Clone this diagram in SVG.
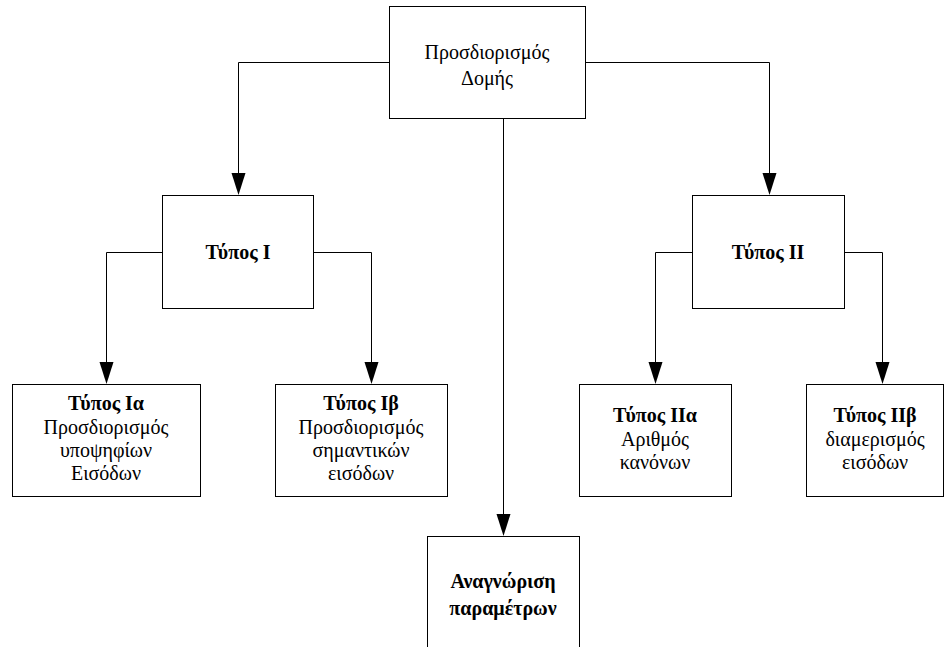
<svg xmlns="http://www.w3.org/2000/svg" width="947" height="647" viewBox="0 0 947 647">
<defs>
<style>
.box{fill:#fff;stroke:#000;stroke-width:1}
.t{font-family:"Liberation Serif","Times New Roman",serif;font-size:20px;text-anchor:middle;fill:#000}
.b{font-weight:bold}
.c{fill:none;stroke:#000;stroke-width:1}
.ah{fill:#000}
</style>
</defs>
<rect width="947" height="647" fill="#fff"/>
<g id="connectors">
<path class="c" d="M389.5,62.5 H238.5 V180"/>
<path class="c" d="M585.5,62.5 H769.5 V180"/>
<path class="c" d="M503.5,118.5 V520"/>
<path class="c" d="M162.5,252.5 H106.5 V370"/>
<path class="c" d="M313.5,252.5 H371.5 V370"/>
<path class="c" d="M692.5,252.5 H655.5 V370"/>
<path class="c" d="M844.5,252.5 H882.5 V370"/>
<path class="ah" d="M231.5,173 L245.5,173 L238.5,195 Z"/>
<path class="ah" d="M762.5,173 L776.5,173 L769.5,195 Z"/>
<path class="ah" d="M496.5,514 L510.5,514 L503.5,536 Z"/>
<path class="ah" d="M99.5,362 L113.5,362 L106.5,384 Z"/>
<path class="ah" d="M364.5,362 L378.5,362 L371.5,384 Z"/>
<path class="ah" d="M648.5,362 L662.5,362 L655.5,384 Z"/>
<path class="ah" d="M875.5,362 L889.5,362 L882.5,384 Z"/>
</g>
<g id="n-root">
<rect class="box" x="389.5" y="6.5" width="196" height="112"/>
<text class="t" x="487" y="59">Προσδιορισμός</text>
<text class="t" x="487" y="85">Δομής</text>
</g>
<g id="n-type1">
<rect class="box" x="162.5" y="195.5" width="151" height="113"/>
<text class="t b" x="238" y="259">Τύπος Ι</text>
</g>
<g id="n-type2">
<rect class="box" x="692.5" y="195.5" width="152" height="113"/>
<text class="t b" x="768" y="259">Τύπος ΙΙ</text>
</g>
<g id="n-type1a">
<rect class="box" x="12.5" y="384.5" width="188" height="112"/>
<text class="t b" x="106" y="410">Τύπος Ια</text>
<text class="t" x="106" y="434">Προσδιορισμός</text>
<text class="t" x="106" y="457">υποψηφίων</text>
<text class="t" x="106" y="480">Εισόδων</text>
</g>
<g id="n-type1b">
<rect class="box" x="275.5" y="384.5" width="172" height="112"/>
<text class="t b" x="361" y="410">Τύπος Ιβ</text>
<text class="t" x="361" y="434">Προσδιορισμός</text>
<text class="t" x="361" y="457">σημαντικών</text>
<text class="t" x="361" y="480">εισόδων</text>
</g>
<g id="n-type2a">
<rect class="box" x="579.5" y="384.5" width="152" height="112"/>
<text class="t b" x="655" y="422">Τύπος ΙΙα</text>
<text class="t" x="655" y="446">Αριθμός</text>
<text class="t" x="655" y="469">κανόνων</text>
</g>
<g id="n-type2b">
<rect class="box" x="806.5" y="384.5" width="137" height="112"/>
<text class="t b" x="875" y="422">Τύπος ΙΙβ</text>
<text class="t" x="875" y="446">διαμερισμός</text>
<text class="t" x="875" y="469">εισόδων</text>
</g>
<g id="n-param">
<rect class="box" x="427.5" y="536.5" width="152" height="120"/>
<text class="t b" x="503" y="588">Αναγνώριση</text>
<text class="t b" x="503" y="615">παραμέτρων</text>
</g>
</svg>
